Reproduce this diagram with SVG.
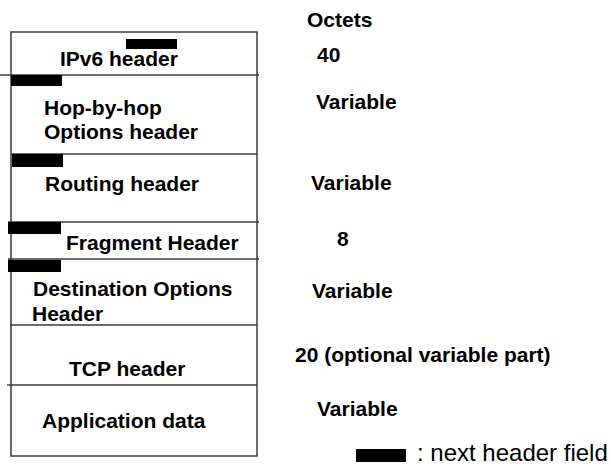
<svg xmlns="http://www.w3.org/2000/svg" width="611" height="466" viewBox="0 0 611 466">
<style>
.t{font-family:"Liberation Sans",Arial,sans-serif;font-weight:bold;font-size:21px;fill:#000}
.l{font-family:"Liberation Sans",Arial,sans-serif;font-size:24px;fill:#000}
.ln{stroke:#3a3a3a;stroke-width:1.5;fill:none}
.nh{fill:#000}
</style>
<rect width="611" height="466" fill="#fff"/>
<g id="frame">
<rect class="ln" x="11" y="32" width="246" height="424"/>
</g>
<g id="dividers">
<line class="ln" x1="0" y1="75" x2="259" y2="75"/>
<line class="ln" x1="11" y1="154" x2="257" y2="154"/>
<line class="ln" x1="8" y1="222" x2="259" y2="222"/>
<line class="ln" x1="8" y1="259" x2="259" y2="259"/>
<line class="ln" x1="10" y1="325" x2="257" y2="325"/>
<line class="ln" x1="7" y1="385" x2="257" y2="385"/>
</g>
<g id="ipv6">
<rect class="nh" x="126" y="39" width="51" height="10"/>
<text class="t" x="60" y="66">IPv6 header</text>
<text class="t" x="317" y="62">40</text>
</g>
<g id="hopbyhop">
<rect class="nh" x="11" y="75" width="51" height="11"/>
<text class="t" x="44" y="115">Hop-by-hop</text>
<text class="t" x="44" y="139">Options header</text>
<text class="t" x="316" y="109">Variable</text>
</g>
<g id="routing">
<rect class="nh" x="12" y="154" width="51" height="13"/>
<text class="t" x="45" y="191">Routing header</text>
<text class="t" x="311" y="190">Variable</text>
</g>
<g id="fragment">
<rect class="nh" x="8" y="222" width="53" height="12"/>
<text class="t" x="66" y="250">Fragment Header</text>
<text class="t" x="337" y="246">8</text>
</g>
<g id="destination">
<rect class="nh" x="8" y="260" width="53" height="12"/>
<text class="t" x="33" y="296">Destination Options</text>
<text class="t" x="32" y="321">Header</text>
<text class="t" x="312" y="298">Variable</text>
</g>
<g id="tcp">
<text class="t" x="69" y="376">TCP header</text>
<text class="t" x="295" y="362">20 (optional variable part)</text>
</g>
<g id="appdata">
<text class="t" x="42" y="428">Application data</text>
<text class="t" x="317" y="416">Variable</text>
</g>
<g id="octets">
<text class="t" x="307" y="27">Octets</text>
</g>
<g id="legend">
<rect class="nh" x="356" y="449" width="50" height="13"/>
<text class="l" x="417" y="461">: next header field</text>
</g>
</svg>
